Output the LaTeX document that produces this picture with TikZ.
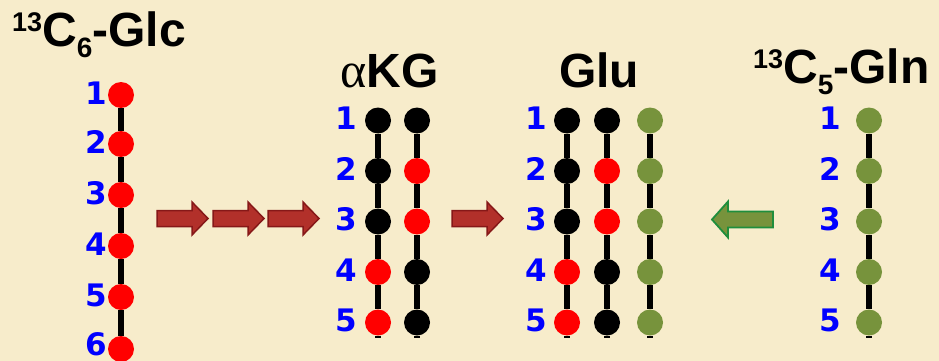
\documentclass[tikz,border=0pt]{standalone}
\usepackage{fontspec}
\setmainfont{Liberation Sans}
\newfontfamily\numfont{DejaVu Sans}
\newfontfamily\greekfont{Liberation Serif}
\definecolor{paper}{HTML}{F7ECCB}
\definecolor{dotred}{HTML}{FF0000}
\definecolor{dotgreen}{HTML}{77933C}
\definecolor{numblue}{HTML}{0000FF}
\definecolor{arrowred}{HTML}{B2302A}
\definecolor{arrowredline}{HTML}{861818}
\definecolor{arrowgreenline}{HTML}{1F8E3D}
\begin{document}
\begin{tikzpicture}[x=1pt,y=-1pt,
  atom/.style={circle,inner sep=0pt,minimum size=26pt},
  cr/.style={atom,fill=dotred},
  ck/.style={atom,fill=black},
  cg/.style={atom,fill=dotgreen},
  bond/.style={line width=5.5pt},
  num/.style={text=numblue,inner sep=0pt,font=\numfont\bfseries\fontsize{31}{31}\selectfont},
  title/.style={anchor=base west,inner sep=0pt,font=\bfseries\fontsize{48}{48}\selectfont},
  redarrow/.style={fill=arrowred,draw=arrowredline,line width=1.5pt,line join=miter},
  greenarrow/.style={fill=dotgreen,draw=arrowgreenline,line width=1.8pt,line join=miter}]
\newcommand\supnum[1]{\raisebox{15pt}{\fontsize{27}{27}\selectfont #1}}
\newcommand\subnum[1]{\raisebox{-10pt}{\fontsize{28}{28}\selectfont #1}}

% background
\fill[paper] (0,0) rectangle (939,361);
\useasboundingbox (0,0) rectangle (939,361);

% titles
\node[title] (tglc) at (12,47) {\supnum{13}C\subnum{6}-Glc};
\node[title] (takg) at (340,87) {{\greekfont\mdseries\fontsize{50}{50}\selectfont α}KG};
\node[title] (tglu) at (559,87) {Glu};
\node[title] (tgln) at (753,84) {\supnum{13}C\subnum{5}-Gln};

% 13C6-glucose: six labelled carbons
\foreach \i/\y in {1/95,2/144,3/195,4/246,5/297,6/349}{
  \node[cr] (g\i) at (121,\y) {};
}
\foreach \i/\y in {1/93,2/142,3/193,4/244,5/295,6/344}
  \node[num] (gn\i) at (96,\y) {\i};
\foreach \i/\j in {1/2,2/3,3/4,4/5,5/6} \draw[bond] (g\i) -- (g\j);

% five-carbon chains: alpha-ketoglutarate, glutamate, glutamine
\foreach \col/\x/\cols in {
  ka/378/{ck,ck,ck,cr,cr},
  kb/417/{ck,cr,cr,ck,ck},
  ua/567/{ck,ck,ck,cr,cr},
  ub/607/{ck,cr,cr,ck,ck},
  uc/650/{cg,cg,cg,cg,cg},
  q/869/{cg,cg,cg,cg,cg}}{
  \foreach \s [count=\i] in \cols
    \node[\s] (\col\i) at (\x,{70+50.5*\i}) {};
  \coordinate (\col end) at (\x,338);
  \foreach \i/\j in {1/2,2/3,3/4,4/5} \draw[bond] (\col\i) -- (\col\j);
  \draw[bond] (\col5) -- (\col end);
}

% carbon numbers
\foreach \i in {1,...,5}{
  \node[num] (kn\i) at (346,{68+50.5*\i}) {\i};
  \node[num] (un\i) at (536,{68+50.5*\i}) {\i};
  \node[num] (qn\i) at (830,{68+50.5*\i}) {\i};
}

% block arrows
\foreach \x in {157,213,268,452}
  \draw[redarrow] (\x,210.5) -- ++(35,0) -- ++(0,-8.5) -- ++(16,16.5)
    -- ++(-16,16.5) -- ++(0,-8.5) -- ++(-35,0) -- cycle;
\draw[greenarrow] (773,211.5) -- ++(-45,0) -- ++(0,-10) -- ++(-16,18)
  -- ++(16,18) -- ++(0,-10) -- ++(45,0) -- cycle;
\end{tikzpicture}
\end{document}
